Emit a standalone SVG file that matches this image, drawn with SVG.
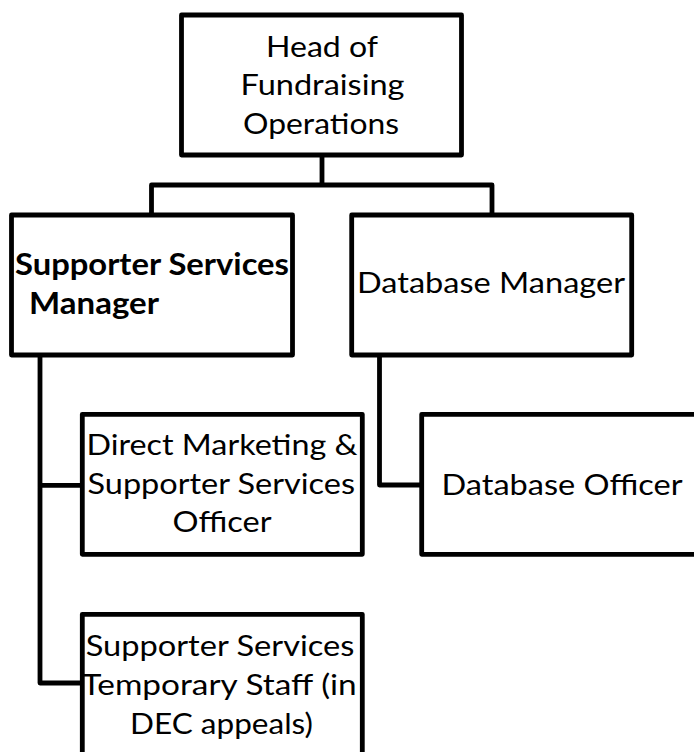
<svg xmlns="http://www.w3.org/2000/svg" width="694" height="752" viewBox="0 0 694 752">
  <style>
    .box { fill: #ffffff; stroke: #000000; stroke-width: 4.8; stroke-linejoin: round; }
    .link { fill: none; stroke: #000000; stroke-width: 4.8; stroke-linejoin: round; stroke-linecap: butt; }
    .lbl { font-family: Lato, "Open Sans", "Liberation Sans", sans-serif; font-size: 29.5px; fill: #000000; }
    .bold { font-weight: bold; }
  </style>
  <rect width="694" height="752" fill="#ffffff"/>

  <!-- reporting lines -->
  <g id="connectors">
    <path class="link" d="M322 155 V185 M151.5 215 V185 H492 V215"/>
    <path class="link" d="M40 355 V683 H82.3 M40 485.3 H82.3"/>
    <path class="link" d="M379.5 355 V485 H421.7"/>
  </g>

  <g id="head-of-fundraising">
    <rect class="box" x="181.5" y="15" width="280" height="140"/>
    <text class="lbl" x="266" y="56.5" textLength="112" lengthAdjust="spacingAndGlyphs">Head of</text>
    <text class="lbl" x="240.5" y="95" textLength="164" lengthAdjust="spacingAndGlyphs">Fundraising</text>
    <text class="lbl" x="243" y="134" textLength="156" lengthAdjust="spacingAndGlyphs">Operations</text>
  </g>

  <g id="supporter-services-manager">
    <rect class="box" x="11.5" y="215" width="281" height="140"/>
    <text class="lbl bold" x="15" y="274.5" textLength="274" lengthAdjust="spacingAndGlyphs">Supporter Services</text>
    <text class="lbl bold" x="29" y="313.5" textLength="130" lengthAdjust="spacingAndGlyphs">Manager</text>
  </g>

  <g id="database-manager">
    <rect class="box" x="351.7" y="215" width="280" height="140"/>
    <text class="lbl" x="357" y="293" textLength="268" lengthAdjust="spacingAndGlyphs">Database Manager</text>
  </g>

  <g id="dm-supporter-services-officer">
    <rect class="box" x="82.3" y="414.3" width="280" height="140"/>
    <text class="lbl" x="86.5" y="455" textLength="271" lengthAdjust="spacingAndGlyphs">Direct Marketing &amp;</text>
    <text class="lbl" x="87.5" y="493.5" textLength="267.5" lengthAdjust="spacingAndGlyphs">Supporter Services</text>
    <text class="lbl" x="172.5" y="532" textLength="99" lengthAdjust="spacingAndGlyphs">Officer</text>
  </g>

  <g id="database-officer">
    <rect class="box" x="421.7" y="414.3" width="280" height="140"/>
    <text class="lbl" x="441.5" y="495" textLength="241" lengthAdjust="spacingAndGlyphs">Database Officer</text>
  </g>

  <g id="temporary-staff">
    <rect class="box" x="82.3" y="614.3" width="280" height="140"/>
    <text class="lbl" x="85.7" y="656" textLength="268.7" lengthAdjust="spacingAndGlyphs">Supporter Services</text>
    <text class="lbl" x="81.7" y="694.5" textLength="275" lengthAdjust="spacingAndGlyphs">Temporary Staff (in</text>
    <text class="lbl" x="130" y="734" textLength="183" lengthAdjust="spacingAndGlyphs">DEC appeals)</text>
  </g>
</svg>
